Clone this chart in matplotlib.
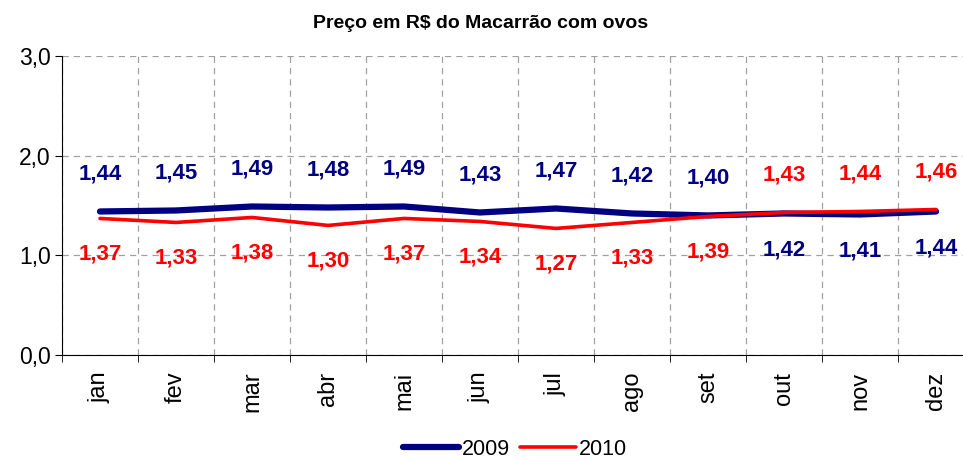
import numpy as np
import matplotlib.pyplot as plt
from matplotlib.ticker import FuncFormatter

meses = ["jan", "fev", "mar", "abr", "mai", "jun", "jul", "ago", "set", "out", "nov", "dez"]
v2009 = [1.44, 1.45, 1.49, 1.48, 1.49, 1.43, 1.47, 1.42, 1.40, 1.42, 1.41, 1.44]
v2010 = [1.37, 1.33, 1.38, 1.30, 1.37, 1.34, 1.27, 1.33, 1.39, 1.43, 1.44, 1.46]

plt.rcParams['font.family'] = ['Liberation Sans', 'DejaVu Sans']

W, H = 963, 461
fig = plt.figure(figsize=(W / 100, H / 100), dpi=100)
ax = fig.add_axes([62 / W, 106 / H, 912 / W, 299 / H])

x = np.arange(len(meses))
ax.plot(x, v2009, color='#000080', lw=4.5, solid_capstyle='round', label='2009', zorder=3)
ax.plot(x, v2010, color='#FF0000', lw=2.6, solid_capstyle='round', label='2010', zorder=4)

def fmt(v):
    return f"{v:.2f}".replace('.', ',')

for i in range(len(meses)):
    a, b = v2009[i], v2010[i]
    up09 = a >= b
    ax.annotate(fmt(a), (x[i], a), xytext=(0, 37 if up09 else -37), textcoords='offset pixels',
                ha='center', va='center', color='#000080', fontsize=16, fontweight='bold')
    ax.annotate(fmt(b), (x[i], b), xytext=(0, -36 if up09 else 37), textcoords='offset pixels',
                ha='center', va='center', color='#FF0000', fontsize=16, fontweight='bold')

ax.set_xlim(-0.5, len(meses) - 0.5)
ax.set_ylim(0, 3)
ax.set_yticks([0, 1, 2, 3])
ax.yaxis.set_major_formatter(FuncFormatter(lambda v, p: f"{v:.1f}".replace('.', ',')))
ax.set_xticks(x)
ax.set_xticklabels(meses, rotation=90, fontsize=17)
ax.tick_params(axis='x', which='major', length=0, pad=12)
ax.set_xticks(np.arange(-0.5, len(meses), 1), minor=True)
ax.tick_params(axis='x', which='minor', length=5, color='black')
ax.tick_params(axis='y', labelsize=16.5, length=5, pad=3)

ax.grid(True, axis='y', which='major', color='#A0A0A0', ls=(0, (5, 4)), lw=0.9)
ax.grid(True, axis='x', which='minor', color='#A0A0A0', ls=(0, (5, 4)), lw=0.9)
ax.grid(False, axis='x', which='major')
for s in ['top', 'right']:
    ax.spines[s].set_visible(False)
ax.spines['left'].set_color('black')
ax.spines['bottom'].set_color('black')

fig.text(481 / W, 1 - 24 / H, "Preço em R$ do Macarrão com ovos", ha='center', va='center',
         fontsize=14, fontweight='bold')

fig.legend(loc='center', bbox_to_anchor=(515 / W, 1 - 449 / H), ncol=2, frameon=False,
           fontsize=15.5, handlelength=2.6, handletextpad=0.1, columnspacing=0.5,
           borderpad=0.1)

fig.savefig('out.png', dpi=100)
